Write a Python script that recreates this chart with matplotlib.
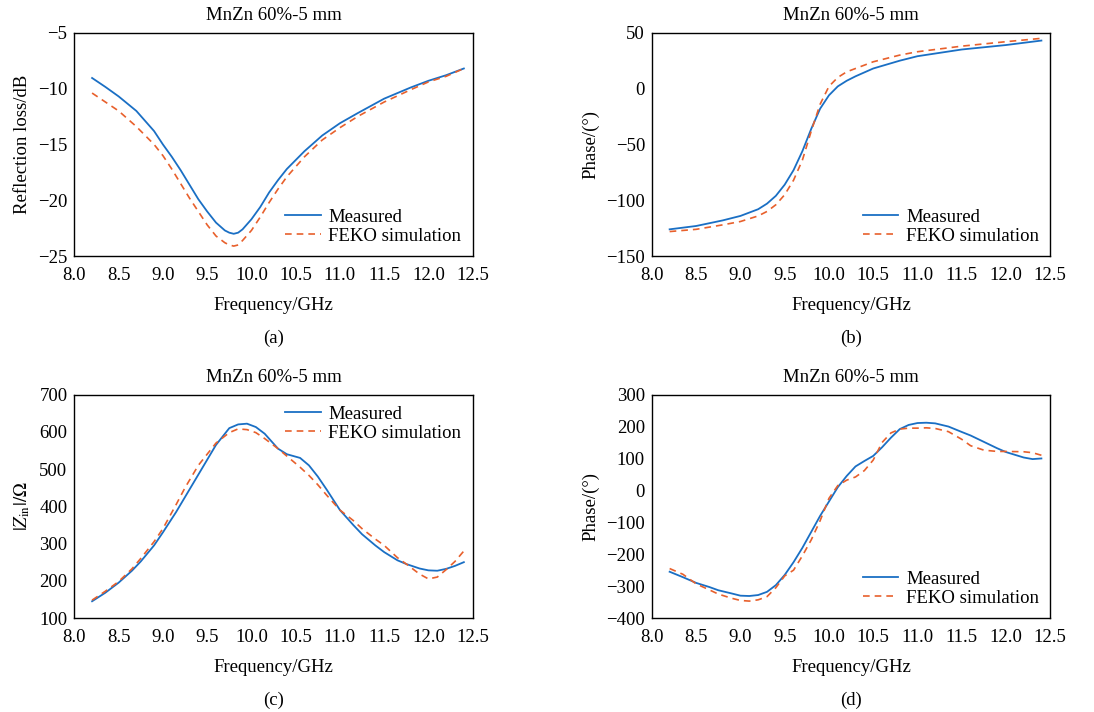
import matplotlib.pyplot as plt

plt.rcParams['font.family'] = ['Liberation Serif', 'DejaVu Serif']
plt.rcParams['font.size'] = 13.5
plt.rcParams['mathtext.fontset'] = 'stix'
plt.rcParams['axes.unicode_minus'] = True

blue = '#1a6fc4'
red = '#e8602c'
title = 'MnZn 60%-5 mm'

# (a) reflection loss
fa = [8.2, 8.35, 8.5, 8.7, 8.9, 9.0, 9.1, 9.2, 9.3, 9.4, 9.5, 9.6, 9.7, 9.75, 9.8, 9.85, 9.9, 10.0, 10.1, 10.2, 10.3, 10.4, 10.5, 10.6, 10.8, 11.0, 11.2, 11.5, 11.8, 12.0, 12.2, 12.4]
rl_meas = [-9.05, -9.85, -10.7, -12.0, -13.8, -15.0, -16.1, -17.3, -18.6, -19.9, -21.0, -22.0, -22.7, -22.9, -23.0, -22.9, -22.6, -21.7, -20.6, -19.3, -18.2, -17.2, -16.4, -15.6, -14.2, -13.1, -12.2, -10.9, -9.9, -9.3, -8.8, -8.2]
rl_feko = [-10.4, -11.2, -12.0, -13.4, -15.0, -16.0, -17.2, -18.5, -19.8, -21.0, -22.2, -23.2, -23.8, -24.0, -24.1, -24.0, -23.6, -22.7, -21.5, -20.2, -19.0, -17.9, -17.0, -16.1, -14.6, -13.5, -12.5, -11.2, -10.1, -9.4, -8.9, -8.2]

# (b) reflection phase
fb = [8.2, 8.5, 8.8, 9.0, 9.2, 9.3, 9.4, 9.5, 9.6, 9.7, 9.8, 9.9, 10.0, 10.1, 10.2, 10.3, 10.5, 10.8, 11.0, 11.5, 12.0, 12.4]
ph_meas = [-126, -123, -118, -114, -108, -103, -96, -86, -73, -56, -36, -18, -6, 2, 7, 11, 18, 25, 29, 35, 39, 43]
ph_feko = [-128, -126, -122, -119, -114, -110, -104, -95, -82, -64, -38, -14, 2, 10, 15, 18, 24, 30, 33, 38, 42, 45]

# (c) input impedance magnitude
fc = [8.2, 8.35, 8.5, 8.65, 8.75, 8.9, 9.0, 9.15, 9.25, 9.4, 9.5, 9.6, 9.75, 9.85, 9.95, 10.05, 10.15, 10.3, 10.4, 10.55, 10.65, 10.75, 10.85, 11.0, 11.15, 11.25, 11.4, 11.5, 11.65, 11.75, 11.9, 12.0, 12.1, 12.2, 12.3, 12.4]
z_meas = [145, 168, 195, 227, 252, 295, 330, 385, 425, 485, 525, 565, 610, 620, 622, 613, 595, 555, 540, 530, 510, 480, 445, 390, 350, 325, 295, 277, 255, 245, 233, 228, 227, 232, 240, 250]
z_feko = [148, 172, 198, 232, 260, 305, 340, 405, 450, 510, 540, 570, 598, 608, 606, 598, 582, 555, 535, 505, 483, 458, 430, 390, 362, 340, 312, 295, 262, 245, 218, 205, 210, 230, 252, 280]

# (d) input impedance phase
fd = [8.2, 8.35, 8.5, 8.65, 8.75, 8.9, 9.0, 9.1, 9.2, 9.3, 9.4, 9.5, 9.6, 9.7, 9.8, 9.9, 10.0, 10.1, 10.2, 10.3, 10.4, 10.5, 10.6, 10.7, 10.8, 10.9, 11.0, 11.1, 11.2, 11.35, 11.5, 11.6, 11.75, 11.9, 12.0, 12.2, 12.3, 12.4]
d_meas = [-255, -272, -290, -303, -313, -323, -330, -331, -328, -318, -297, -265, -225, -180, -130, -80, -35, 10, 45, 75, 92, 108, 135, 165, 192, 205, 211, 212, 210, 200, 183, 172, 152, 132, 120, 103, 98, 100]
d_feko = [-245, -263, -293, -312, -325, -338, -345, -347, -343, -333, -305, -268, -250, -205, -155, -95, -25, 15, 32, 42, 62, 95, 150, 180, 192, 195, 195, 196, 194, 184, 160, 140, 126, 122, 122, 121, 118, 110]

fig, axes = plt.subplots(2, 2, figsize=(10.94, 7.12), dpi=100)
plt.subplots_adjust(left=0.068, right=0.96, top=0.954, bottom=0.132, wspace=0.45, hspace=0.62)

panels = [
    (axes[0, 0], fa, rl_meas, rl_feko, 'Reflection loss/dB', (-25, -5), range(-25, 0, 5), 'lower right', '(a)'),
    (axes[0, 1], fb, ph_meas, ph_feko, 'Phase/(°)', (-150, 50), range(-150, 51, 50), 'lower right', '(b)'),
    (axes[1, 0], fc, z_meas, z_feko, r'$|Z_{\mathrm{in}}|/\Omega$', (100, 700), range(100, 701, 100), 'upper right', '(c)'),
    (axes[1, 1], fd, d_meas, d_feko, 'Phase/(°)', (-400, 300), range(-400, 301, 100), 'lower right', '(d)'),
]

for ax, f, m, s, ylab, ylim, yt, loc, tag in panels:
    ax.plot(f, m, color=blue, lw=1.3, label='Measured')
    ax.plot(f, s, color=red, lw=1.2, ls=(0, (4, 3)), label='FEKO simulation')
    ax.set_xlim(8.0, 12.5)
    ax.set_ylim(*ylim)
    ax.set_xticks([8.0, 8.5, 9.0, 9.5, 10.0, 10.5, 11.0, 11.5, 12.0, 12.5])
    ax.set_yticks(list(yt))
    ax.tick_params(length=0, labelsize=13.5)
    ax.tick_params(axis='x', pad=8)
    ax.tick_params(axis='y', pad=5)
    ax.set_title(title, fontsize=13.5, pad=9)
    ax.set_xlabel('Frequency/GHz', fontsize=13.5, labelpad=9)
    ax.set_ylabel(ylab, fontsize=13.5, labelpad=5)
    ax.legend(loc=loc, frameon=False, fontsize=13.5, handlelength=1.9, handletextpad=0.4,
              labelspacing=0.1, borderaxespad=0.2)
    ax.text(0.5, -0.33, tag, transform=ax.transAxes, ha='center', va='top', fontsize=13.5)
    for sp in ax.spines.values():
        sp.set_linewidth(1.0)

fig.savefig('out.png', dpi=100)
